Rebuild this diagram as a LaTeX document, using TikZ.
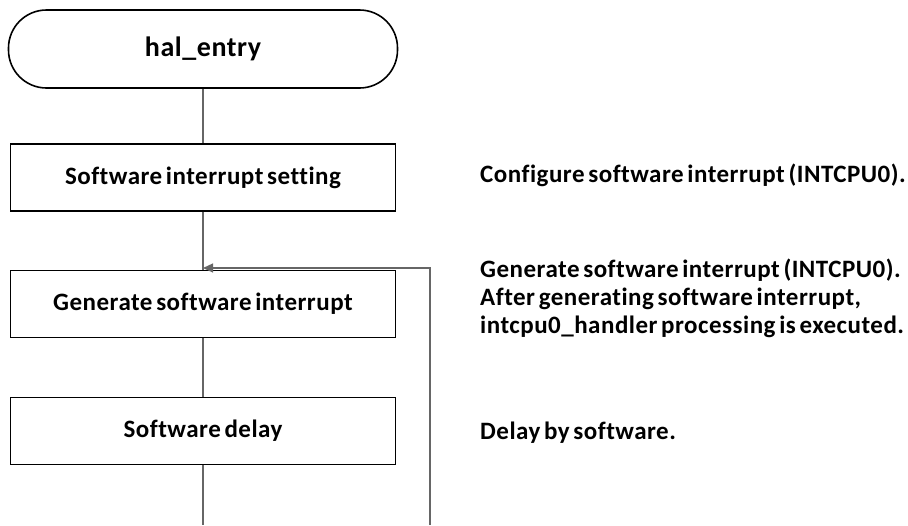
\documentclass[tikz,border=0pt]{standalone}
\usepackage{fontspec}
\setmainfont{Carlito}[Ligatures=NoCommon, LetterSpace=2.0, WordSpace=0.6]
\usetikzlibrary{arrows.meta}
\tikzset{
  x=1pt, y=-1pt,
  every node/.style={font=\bfseries\fontsize{25}{28}\selectfont, inner sep=0pt},
  procbox/.style={draw=black, line width=1.6pt, minimum width=385pt, minimum height=67pt},
  terminal/.style={draw=black, line width=1.6pt, minimum width=389pt, minimum height=78pt,
    rounded corners=38pt, font=\bfseries\fontsize{28}{30}\selectfont},
  flow/.style={draw=black!60, line width=1.2pt},
  note/.style={anchor=base west, align=left},
}
\begin{document}
\begin{tikzpicture}
\useasboundingbox (0,0) rectangle (908,525);
% flowchart nodes
\node[terminal] (start) at (203,49) {hal\_entry};
\node[procbox] (setting) at (203,177.5) {Software interrupt setting};
\node[procbox] (generate) at (203,304) {Generate software interrupt};
\node[procbox] (delay) at (203,431) {Software delay};
% loop junction and free ends
\coordinate (join) at (203,268);
\coordinate (loopin) at (430,268);
\coordinate (downend) at (203,525);
\coordinate (loopend) at (430,525);
% connectors
\draw[flow] (start) -- (setting);
\draw[flow] (setting) -- (generate);
\draw[flow] (generate) -- (delay);
\draw[flow] (delay) -- (downend);
\draw[flow, -{Triangle[length=10pt,width=9pt]}] (loopend) -- (loopin) -- (join);
% descriptions (base anchor of the three-line note is its last line)
\node[note] (d1) at (480,182.5) {Configure software interrupt (INTCPU0).};
\node[note] (d2) at (480,333) {Generate software interrupt (INTCPU0).\\After generating software interrupt,\\intcpu0\_handler processing is executed.};
\node[note] (d3) at (480,439) {Delay by software.};
\end{tikzpicture}
\end{document}
